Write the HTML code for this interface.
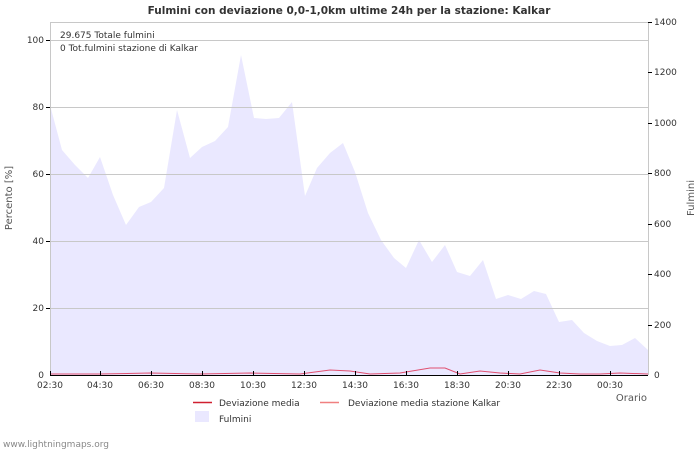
<!DOCTYPE html>
<html><head><meta charset="utf-8"><style>
body{margin:0;background:#fff;}
svg{display:block;font-family:"DejaVu Sans","Liberation Sans",sans-serif;}
</style></head><body>
<svg width="700" height="450" viewBox="0 0 700 450" xmlns="http://www.w3.org/2000/svg">
<rect width="700" height="450" fill="#fff"/>
<text x="349" y="14" text-anchor="middle" font-size="10.5" font-weight="bold" fill="#333">Fulmini con deviazione 0,0-1,0km ultime 24h per la stazione: Kalkar</text>
<polygon fill="#eae8ff" points="50,375 50,105 62,150 75,165 88,178 100,157 113,195 126,225 139,207 151,202 164,188 177,110 190,158 202,147 215,141 228,127 241,55 254,118 266,119 279,118 292,102 305,196 317,168 330,153 343,143 355,172 368,213 381,240 394,258 406,268 419,240 432,262 445,245 457,272 470,276 483,260 496,299 508,295 521,299 534,291 546,294 559,322 572,320 584,333 597,341 610,346 622,345 635,338 648,350 648,375"/>
<g stroke="#c8c8c8" stroke-width="1">
<line x1="50" y1="40.5" x2="648" y2="40.5"/>
<line x1="50" y1="107.5" x2="648" y2="107.5"/>
<line x1="50" y1="174.5" x2="648" y2="174.5"/>
<line x1="50" y1="241.5" x2="648" y2="241.5"/>
<line x1="50" y1="308.5" x2="648" y2="308.5"/>
<line x1="50" y1="22.5" x2="648" y2="22.5"/>
<line x1="50.5" y1="22" x2="50.5" y2="375"/>
<line x1="648.5" y1="22" x2="648.5" y2="375"/>
</g>
<line x1="50" y1="375.5" x2="648" y2="375.5" stroke="#000"/>
<polyline fill="none" stroke="#e05070" stroke-width="1" points="50,374 100,374 150,373 200,374 250,373 300,374 330,370 350,371 370,374 400,373 430,368 445,368 460,374 480,371 500,373 520,374 540,370 560,373 580,374 600,374 620,373 648,374"/>
<g stroke="#000" stroke-width="1">
<line x1="50.5" y1="375" x2="50.5" y2="371"/><line x1="100.5" y1="375" x2="100.5" y2="371"/><line x1="151.5" y1="375" x2="151.5" y2="371"/><line x1="202.5" y1="375" x2="202.5" y2="371"/><line x1="253.5" y1="375" x2="253.5" y2="371"/><line x1="304.5" y1="375" x2="304.5" y2="371"/><line x1="355.5" y1="375" x2="355.5" y2="371"/><line x1="406.5" y1="375" x2="406.5" y2="371"/><line x1="457.5" y1="375" x2="457.5" y2="371"/><line x1="508.5" y1="375" x2="508.5" y2="371"/><line x1="559.5" y1="375" x2="559.5" y2="371"/><line x1="610.5" y1="375" x2="610.5" y2="371"/>
<line x1="46" y1="40.5" x2="50" y2="40.5"/><line x1="46" y1="107.5" x2="50" y2="107.5"/><line x1="46" y1="174.5" x2="50" y2="174.5"/><line x1="46" y1="241.5" x2="50" y2="241.5"/><line x1="46" y1="308.5" x2="50" y2="308.5"/>
<line x1="648" y1="22.5" x2="652" y2="22.5"/><line x1="648" y1="72.5" x2="652" y2="72.5"/><line x1="648" y1="123.5" x2="652" y2="123.5"/><line x1="648" y1="173.5" x2="652" y2="173.5"/><line x1="648" y1="224.5" x2="652" y2="224.5"/><line x1="648" y1="274.5" x2="652" y2="274.5"/><line x1="648" y1="325.5" x2="652" y2="325.5"/>
</g>
<g font-size="9" fill="#333">
<text x="60" y="38">29.675 Totale fulmini</text>
<text x="60" y="51">0 Tot.fulmini stazione di Kalkar</text>
<g text-anchor="end">
<text x="44" y="43">100</text><text x="44" y="110">80</text><text x="44" y="177">60</text><text x="44" y="244">40</text><text x="44" y="311">20</text><text x="44" y="378">0</text>
</g>
<g text-anchor="start">
<text x="654" y="25">1400</text><text x="654" y="75">1200</text><text x="654" y="126">1000</text><text x="654" y="176">800</text><text x="654" y="227">600</text><text x="654" y="277">400</text><text x="654" y="328">200</text><text x="654" y="378">0</text>
</g>
<g text-anchor="middle">
<text x="50" y="388">02:30</text><text x="100" y="388">04:30</text><text x="151" y="388">06:30</text><text x="202" y="388">08:30</text><text x="253" y="388">10:30</text><text x="304" y="388">12:30</text><text x="355" y="388">14:30</text><text x="406" y="388">16:30</text><text x="457" y="388">18:30</text><text x="508" y="388">20:30</text><text x="559" y="388">22:30</text><text x="610" y="388">00:30</text>
</g>
<text x="647" y="401" text-anchor="end" font-size="10" fill="#555">Orario</text>
<text transform="translate(12,198) rotate(-90)" text-anchor="middle" font-size="10" fill="#555">Percento  [%]</text>
<text transform="translate(694,198) rotate(-90)" text-anchor="middle" font-size="10" fill="#555">Fulmini</text>
<line x1="193" y1="402.5" x2="212" y2="402.5" stroke="#d02030" stroke-width="1.5"/>
<text x="219" y="406">Deviazione media</text>
<line x1="320" y1="402.5" x2="339" y2="402.5" stroke="#f08080" stroke-width="1.5"/>
<text x="348" y="406">Deviazione media stazione Kalkar</text>
<rect x="195" y="411" width="14" height="11" fill="#eae8ff"/>
<text x="219" y="422">Fulmini</text>
<text x="3" y="447" fill="#888">www.lightningmaps.org</text>
</g>
</svg>
</body></html>
